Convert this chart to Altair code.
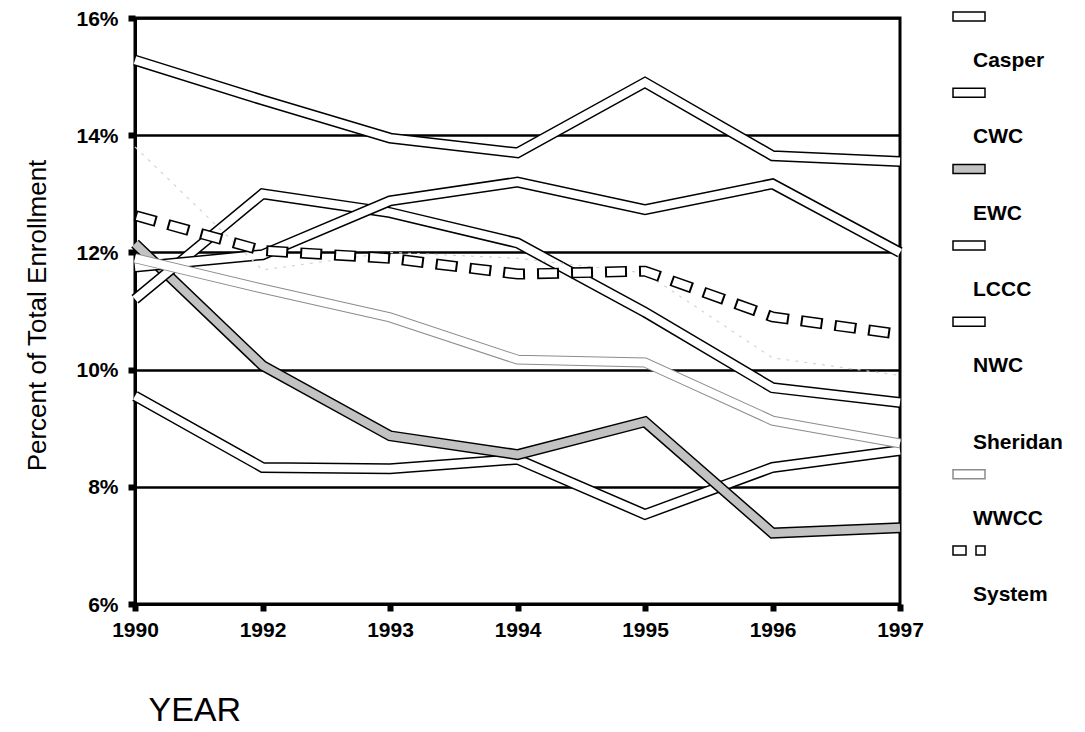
import altair as alt
import pandas as pd

years = ["1990", "1992", "1993", "1994", "1995", "1996", "1997"]
series_names = ["Casper", "CWC", "EWC", "LCCC", "NWC", "Sheridan", "WWCC", "System"]

casper = [15.28, 14.6, 13.95, 13.7, 14.9, 13.65, 13.55]
cwc = [9.55, 8.33, 8.31, 8.47, 7.53, 8.33, 8.62]
ewc = [12.15, 10.07, 8.87, 8.55, 9.11, 7.21, 7.3]
lccc = [11.2, 13.0, 12.68, 12.16, 10.98, 9.69, 9.44]
nwc = [11.75, 11.96, 12.88, 13.2, 12.73, 13.17, 12.0]
sheridan = [13.8, 11.7, 12.0, 11.9, 11.65, 10.2, 9.9]
wwcc = [11.9, 11.38, 10.89, 10.17, 10.12, 9.13, 8.74]
system = [12.63, 12.03, 11.9, 11.63, 11.68, 10.9, 10.6]

values = {
    "Casper": casper, "CWC": cwc, "EWC": ewc, "LCCC": lccc,
    "NWC": nwc, "Sheridan": sheridan, "WWCC": wwcc, "System": system,
}

rows = []
for s in series_names:
    for yr, v in zip(years, values[s]):
        rows.append({"year": yr, "series": s, "value": v})
df = pd.DataFrame(rows)

FONT = "Liberation Sans"

# line styles: (outer colour, outer width, inner colour, inner width, outer dash, inner dash, inner offset)
styles = {
    "Casper": ("#000000", 11, "#ffffff", 8, None, None, 0),
    "CWC": ("#000000", 11, "#ffffff", 8, None, None, 0),
    "EWC": ("#000000", 11, "#c2c2c2", 8, None, None, 0),
    "LCCC": ("#000000", 11, "#ffffff", 8, None, None, 0),
    "NWC": ("#000000", 11, "#ffffff", 8, None, None, 0),
    "WWCC": ("#8c8c8c", 10, "#ffffff", 8, None, None, 0),
    "System": ("#000000", 11, "#ffffff", 8, [22, 12], [18, 16], -2),
}

x_enc = alt.X(
    "year:O",
    sort=years,
    scale=alt.Scale(type="point", padding=0),
    axis=alt.Axis(
        title="YEAR", labelAngle=0, labelFont=FONT, labelFontSize=21,
        labelFontWeight="bold", labelColor="black", labelPadding=8,
        tickSize=7, tickWidth=6, tickColor="black",
        domainColor="black", domainWidth=3, grid=False,
        titleFont=FONT, titleFontSize=34, titleFontWeight="normal",
        titleColor="black", titleX=13, titleY=116, titleAlign="left",
        titleBaseline="alphabetic",
    ),
)
y_enc = alt.Y(
    "value:Q",
    scale=alt.Scale(domain=[6, 16], nice=False, zero=False),
    axis=alt.Axis(
        title="Percent of Total Enrollment", values=[6, 8, 10, 12, 14, 16],
        labelExpr="datum.value + '%'", labelFont=FONT, labelFontSize=21,
        labelFontWeight="bold", labelColor="black", labelPadding=10, labelOffset=1,
        tickSize=7, tickWidth=6, tickColor="black",
        domainColor="black", domainWidth=3,
        grid=True, gridColor="black", gridWidth=2.5,
        titleFont=FONT, titleFontSize=26, titleFontWeight="normal",
        titleColor="black", titleX=-98, titleY=297, titleAlign="center",
        titleBaseline="middle", titleAngle=-90,
    ),
)

base = alt.Chart(df)
layers = []
for s in series_names:
    sub = base.transform_filter(alt.datum.series == s)
    if s == "Sheridan":
        layers.append(sub.mark_line(color="#d4d4d4", strokeWidth=1.2, strokeDash=[3, 6]).encode(x=x_enc, y=y_enc))
        continue
    oc, ow, ic, iw, od, idash, ioff = styles[s]
    kw_o = dict(color=oc, strokeWidth=ow, strokeJoin="miter", strokeCap="butt")
    kw_i = dict(color=ic, strokeWidth=iw, strokeJoin="miter", strokeCap="butt")
    if od:
        kw_o["strokeDash"] = od
    if idash:
        kw_i["strokeDash"] = idash
        kw_i["strokeDashOffset"] = ioff
    layers.append(sub.mark_line(**kw_o).encode(x=x_enc, y=y_enc))
    layers.append(sub.mark_line(**kw_i).encode(x=x_enc, y=y_enc))

# custom legend (symbol above label, like the original)
legend_fill = {"Casper": "#ffffff", "CWC": "#ffffff", "EWC": "#c2c2c2", "LCCC": "#ffffff",
               "NWC": "#ffffff", "WWCC": "#ffffff", "System": "#ffffff"}
legend_stroke = {"Casper": "#000000", "CWC": "#000000", "EWC": "#000000", "LCCC": "#000000",
                 "NWC": "#000000", "WWCC": "#8c8c8c", "System": "#000000"}
for i, s in enumerate(series_names):
    ly = 43 + i * 76.3
    one = alt.Chart(pd.DataFrame({"name": [s]}))
    layers.append(
        one.mark_text(align="left", baseline="middle", font=FONT, fontSize=21, fontWeight="bold",
                      color="black").encode(
            text="name:N", x=alt.value(838), y=alt.value(ly)
        )
    )
    sy = ly - 49
    if s == "Sheridan":
        continue
    if s == "System":
        for xa, xb in [(818, 831), (841, 850)]:
            layers.append(one.mark_rect(fill="#ffffff", stroke="#000000", strokeWidth=1.5).encode(
                x=alt.value(xa), x2=alt.value(xb), y=alt.value(sy), y2=alt.value(sy + 9)))
        continue
    layers.append(one.mark_rect(fill=legend_fill[s], stroke=legend_stroke[s], strokeWidth=1.5).encode(
        x=alt.value(818), x2=alt.value(850), y=alt.value(sy), y2=alt.value(sy + 9)))

chart = alt.layer(*layers).properties(
    width=765,
    height=586,
    autosize=alt.AutoSizeParams(type="none"),
    padding={"left": 127, "top": 10, "right": 177, "bottom": 128},
).configure_view(stroke="black", strokeWidth=3)

chart.save("out.html", embed_options={"renderer": "svg", "actions": False})
